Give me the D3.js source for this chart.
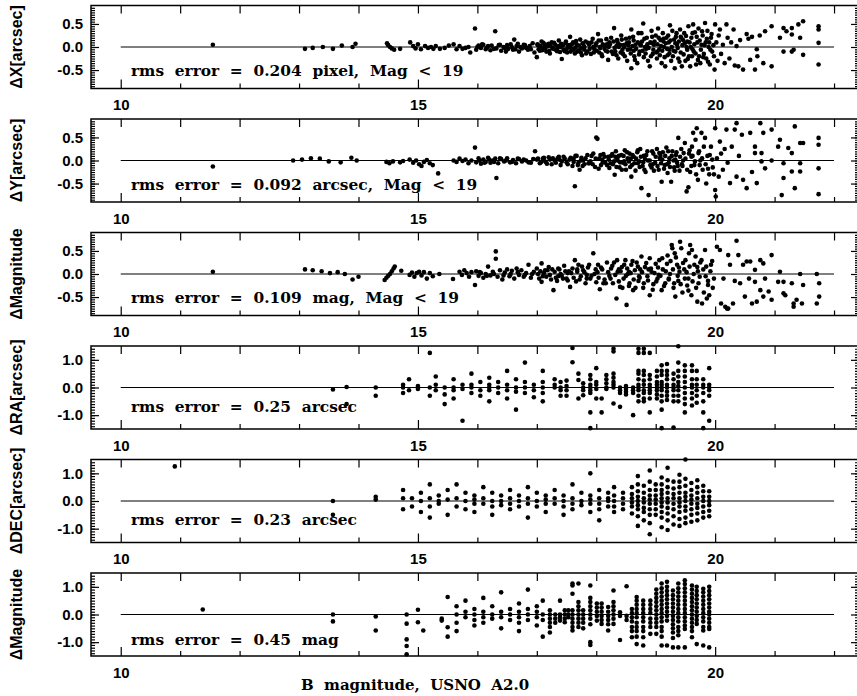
<!DOCTYPE html>
<html>
<head>
<meta charset="utf-8">
<script src="https://cdn.jsdelivr.net/npm/d3@7"></script>
<style>
  body { margin: 0; background: #fff; }
  svg { display: block; }
  .lab { font-family: "Liberation Sans", sans-serif; font-weight: bold; }
  .note { font-family: "DejaVu Serif", serif; font-weight: bold; white-space: pre; }
</style>
</head>
<body>
<div id="chart"></div>
<script>
// ----------------------------------------------------------------
// data: [B magnitude, residual]
// ----------------------------------------------------------------
const dxPoints = [
  [11.55,0.05],[13.1,-0.04],[13.23,-0.02],[13.4,0.0],[13.57,-0.04],[13.72,0.03],[13.9,0.0],[13.95,0.07],
  [14.48,0.08],[14.5,0.04],[14.53,0.0],[14.56,-0.03],[14.6,-0.06],[14.7,-0.04],[14.87,0.1],[14.92,0.02],[14.96,-0.03],
  [15.0,0.06],[15.05,-0.05],[15.12,0.02],[15.17,-0.02],[15.22,0.0],[15.26,-0.04],[15.37,-0.04],
  [15.6,0.06],[15.7,0.02],[15.75,-0.04],[15.8,-0.02],[15.85,0.0],[15.88,-0.12],[15.96,0.4],[15.98,-0.06],
  [16.02,0.03],[16.06,-0.02],[16.1,0.05],[16.14,-0.05],[16.18,0.02],[16.22,-0.07],[16.3,0.34],[16.32,-0.03],
  [16.36,0.04],[16.4,-0.08],[16.44,0.0],[16.48,-0.1],[16.52,-0.04],[16.56,0.06],[16.6,-0.06],[16.62,0.16],
  [16.66,0.02],[16.7,-0.1],[16.75,-0.03],[16.8,0.04],[16.85,-0.06],
  [15.3,0.02],[15.45,-0.02],[15.52,0.03],[15.65,-0.05],[16.0,0.0],[16.08,0.06],[16.16,-0.02],[16.24,0.03],
  [16.28,-0.04],[16.38,0.05],[16.46,-0.02],[16.5,0.04],[16.58,0.0],[16.64,-0.05],[16.68,0.07],[16.72,0.0],
  [16.78,0.05],[16.82,-0.02],[16.88,0.02],
  [16.9,-0.05],[16.93,0.08],[16.96,-0.12],[17.0,-0.22],[17.02,0.04],[17.05,-0.08],[17.08,0.12],[17.1,-0.02],
  [17.13,0.06],[17.16,-0.1],[17.19,0.02],[17.22,-0.14],[17.25,0.1],[17.28,-0.04],[17.31,0.05],[17.34,-0.09],
  [17.37,0.14],[17.4,0.0],[17.42,-0.26],[17.45,-0.06],[17.48,0.08],[17.51,-0.12],[17.54,0.04],[17.56,0.22],
  [17.58,-0.03],[17.61,0.1],[17.64,-0.14],[17.67,0.06],[17.7,-0.07],[17.73,0.16],[17.76,-0.18],[17.79,0.02],
  [17.82,0.12],[17.85,-0.1],[17.88,0.05],[17.91,-0.15],[17.94,0.18],[17.97,-0.05],[18.0,0.08],[18.03,0.28],
  [18.05,-0.12],[18.08,0.14],[18.1,-0.2],[18.13,0.03],[18.16,-0.08],[18.2,-0.28],[18.22,0.1],[18.25,0.2],
  [18.28,-0.15],[18.3,0.41],
  [17.15,0.0],[17.35,-0.02],[17.55,0.01],[17.75,-0.03],[17.95,0.0],[18.15,0.02],[17.2,0.07],[17.5,-0.05],
  [17.8,-0.06],[18.07,-0.02],[18.18,0.06],[17.65,-0.01],
  [17.01,0.06],[17.03,-0.05],[17.06,0.02],[17.09,-0.07],[17.11,0.09],[17.14,-0.03],[17.17,0.05],[17.21,-0.08],
  [17.23,0.03],[17.26,-0.02],[17.29,0.09],[17.32,-0.06],[17.36,0.02],[17.39,-0.11],[17.41,0.07],[17.44,0.03],
  [17.47,-0.09],[17.49,0.12],[17.52,0.0],[17.57,-0.1],[17.59,0.06],[17.62,-0.06],[17.66,0.13],[17.68,-0.1],
  [17.71,0.03],[17.74,-0.12],[17.77,0.08],[17.8,0.0],[17.83,-0.14],[17.86,0.09],[17.89,-0.04],[17.92,0.1],
  [17.96,-0.12],[17.99,0.04],[18.01,-0.08],[18.04,0.14],[18.06,0.0],[18.09,-0.16],[18.11,0.06],[18.14,-0.04],
  [18.17,0.17],[18.19,-0.1],[18.21,0.0],
  [18.32,-0.1],[18.35,0.15],[18.37,-0.25],[18.4,0.05],[18.42,0.25],[18.45,-0.15],[18.47,0.0],[18.5,0.18],
  [18.52,-0.3],[18.55,0.1],[18.57,-0.05],[18.59,0.38],[18.59,-0.46],[18.62,0.22],[18.64,-0.2],[18.66,0.05],
  [18.69,-0.35],[18.71,0.3],[18.73,-0.1],[18.76,0.3],[18.77,0.12],[18.79,0.51],[18.8,-0.22],[18.82,0.0],
  [18.85,0.2],[18.87,-0.3],[18.9,-0.42],[18.91,0.1],[18.93,0.35],[18.95,-0.15],[18.97,0.05],[19.0,0.25],
  [19.02,-0.25],[19.04,0.4],[19.06,-0.05],[19.08,0.15],[19.1,-0.35],[19.12,0.3],[19.14,0.0],[19.16,-0.42],
  [19.18,0.2],[19.2,-0.18],[19.22,0.1],[19.24,0.47],[19.26,-0.3],[19.28,0.35],[19.3,-0.08],[19.32,-0.46],
  [19.34,0.22],[19.36,0.05],[19.38,-0.25],[19.41,0.38],[19.42,-0.12],[19.44,-0.42],[19.46,0.15],[19.48,0.3],
  [19.5,-0.3],[19.52,0.0],[19.55,0.45],[19.56,-0.2],[19.58,-0.42],[19.6,0.2],[19.63,0.49],[19.64,-0.1],
  [19.66,0.32],[19.68,-0.38],[19.7,0.1],[19.72,0.4],[19.75,-0.35],[19.77,0.05],[19.79,0.25],[19.81,-0.15],
  [19.83,0.52],[19.85,-0.25],[19.87,0.35],[19.89,0.0],[19.91,-0.38],[19.93,0.2],[19.95,-0.1],[19.99,-0.49],
  [18.34,0.02],[18.44,-0.06],[18.54,0.04],[18.63,-0.08],[18.74,0.06],[18.84,-0.04],[18.94,0.08],[19.03,-0.1],
  [19.13,0.12],[19.23,-0.06],[19.33,0.08],[19.43,0.2],[19.53,0.12],[19.62,-0.05],[19.73,-0.2],[19.84,0.1],
  [18.23,0.06],[18.26,-0.1],[18.29,0.12],[18.31,-0.02],[18.34,-0.18],[18.36,0.1],[18.38,0.0],[18.41,-0.12],
  [18.43,0.16],[18.46,0.04],[18.48,-0.2],[18.51,0.08],[18.53,-0.06],[18.56,0.2],[18.58,-0.14],[18.61,0.02],
  [18.63,0.14],[18.65,-0.28],[18.67,-0.04],[18.7,0.1],[18.72,-0.16],[18.75,0.04],[18.78,-0.08],[18.81,0.18],
  [18.83,-0.14],[18.86,0.06],[18.88,-0.02],[18.92,-0.2],[18.94,0.22],[18.96,-0.06],[18.98,0.12],[19.01,-0.12],
  [19.03,0.06],[19.05,0.2],[19.07,-0.18],[19.09,0.02],[19.11,-0.08],[19.13,0.18],[19.15,-0.22],[19.17,0.08],
  [19.19,-0.04],[19.21,0.25],[19.23,-0.14],[19.25,0.14],[19.27,0.0],[19.29,-0.2],[19.31,0.16],[19.33,-0.1],
  [19.35,0.3],[19.37,-0.02],[19.39,0.12],[19.4,-0.32],[19.42,0.22],[19.45,0.04],[19.47,-0.16],[19.49,0.08],
  [19.51,0.24],[19.53,-0.06],[19.54,-0.26],[19.57,0.1],[19.59,0.0],[19.61,-0.2],[19.62,0.3],[19.65,0.06],
  [19.67,-0.14],[19.69,0.22],[19.71,-0.28],[19.74,0.14],[19.76,-0.06],[19.78,0.34],[19.8,-0.22],[19.82,0.04],
  [19.86,0.18],[19.88,-0.32],[19.9,0.1],[19.92,-0.06],[19.94,0.28],[19.97,0.04],[19.98,-0.2],
  [20.0,0.49],[20.02,0.1],[20.04,-0.3],[20.06,0.25],[20.08,0.38],[20.1,-0.15],[20.13,0.05],[20.16,-0.35],
  [20.19,0.49],[20.21,0.2],[20.24,-0.25],[20.27,0.1],[20.31,0.38],[20.33,-0.4],[20.36,0.02],[20.39,-0.42],
  [20.42,0.15],[20.47,-0.49],[20.53,0.28],[20.56,0.18],[20.59,-0.28],[20.62,0.22],[20.67,-0.49],[20.7,-0.05],
  [20.71,-0.2],[20.75,0.25],[20.81,-0.35],[20.84,0.34],[20.95,0.45],[20.95,-0.42],[21.09,0.2],[21.15,0.41],
  [21.15,-0.1],[21.2,0.34],[21.29,0.41],[21.29,0.27],[21.29,-0.1],[21.32,-0.06],[21.4,0.49],[21.43,0.2],
  [21.48,0.56],[21.48,-0.17],[21.74,0.45],[21.74,0.38],[21.74,0.09],[21.74,-0.38]
];

const dyPoints = [
  [11.55,-0.13],[12.9,0.0],[13.05,0.02],[13.2,0.05],[13.35,0.04],[13.5,-0.02],[13.7,-0.04],[13.88,0.06],[13.97,0.0],
  [14.47,-0.03],[14.52,-0.06],[14.58,-0.02],[14.7,-0.04],[14.75,-0.01],[14.86,0.02],[14.92,-0.05],[14.97,0.0],
  [15.02,-0.08],[15.06,-0.12],[15.1,-0.03],[15.15,0.01],[15.2,-0.06],[15.25,-0.1],[15.34,-0.28],[15.6,0.0],
  [15.65,-0.03],[15.7,0.04],[15.75,-0.01],[15.8,0.02],[15.85,-0.06],[15.9,0.0],[15.96,0.28],[15.98,-0.04],
  [16.02,0.05],[16.06,-0.07],[16.1,0.02],[16.14,-0.03],[16.18,0.06],[16.22,-0.05],[16.26,0.0],[16.3,0.04],
  [16.32,-0.38],[16.35,-0.06],[16.4,0.03],[16.45,-0.02],[16.5,0.05],[16.55,-0.04],[16.6,0.01],[16.65,-0.06],
  [16.7,0.03],[16.75,-0.02],[16.82,0.0],[16.9,-0.05],[16.97,0.2],[17.0,0.02],[17.05,-0.06],[17.1,0.04],
  [16.04,0.0],[16.12,-0.05],[16.2,0.02],[16.28,-0.03],[16.38,0.05],[16.48,0.0],[16.58,-0.03],[16.68,0.04],
  [16.78,0.02],[16.86,-0.04],[16.94,0.03],
  [17.15,-0.03],[17.2,0.07],[17.25,-0.08],[17.3,0.0],[17.35,0.05],[17.4,-0.1],[17.45,0.08],[17.5,-0.04],
  [17.55,0.02],[17.6,-0.12],[17.64,-0.56],[17.65,0.1],[17.7,-0.05],[17.72,-0.2],[17.75,0.06],[17.8,-0.08],
  [17.85,0.12],[17.9,-0.02],[17.95,0.15],[17.98,-0.14],[18.0,0.5],[18.02,0.47],[18.05,0.04],[18.08,-0.1],
  [18.12,0.14],[18.15,-0.05],[18.2,0.08],[18.22,-0.16],
  [17.12,0.0],[17.38,0.02],[17.62,0.04],[17.88,-0.06],[18.1,0.02],[17.78,0.0],
  [17.02,0.04],[17.07,-0.04],[17.12,0.06],[17.17,-0.07],[17.22,0.02],[17.27,0.05],[17.32,-0.05],[17.37,0.08],
  [17.42,-0.02],[17.47,0.04],[17.52,-0.08],[17.57,0.06],[17.62,-0.03],[17.67,0.1],[17.69,-0.1],[17.74,0.0],
  [17.77,-0.12],[17.82,0.05],[17.87,-0.06],[17.92,0.1],[17.94,-0.08],[17.99,0.04],[18.04,-0.18],[18.07,0.12],
  [18.11,-0.04],[18.14,0.08],[18.18,-0.1],[18.21,0.02],
  [18.25,0.1],[18.28,-0.08],[18.31,-0.31],[18.33,0.2],[18.36,0.0],[18.39,-0.15],[18.42,0.12],[18.45,-0.05],
  [18.48,0.22],[18.5,-0.2],[18.53,0.05],[18.56,0.15],[18.59,-0.35],[18.6,-0.1],[18.63,0.08],[18.66,-0.22],
  [18.69,0.18],[18.72,-0.02],[18.74,0.25],[18.76,-0.6],[18.78,-0.12],[18.8,0.1],[18.83,-0.25],[18.86,0.2],
  [18.88,-0.75],[18.9,0.0],[18.93,-0.15],[18.96,0.15],[18.99,-0.05],[19.02,0.25],[19.05,-0.2],[19.07,0.05],
  [19.1,-0.46],[19.12,0.18],[19.15,-0.1],[19.18,0.28],[19.2,-0.27],[19.23,0.05],[19.26,-0.46],[19.28,0.2],
  [19.31,-0.15],[19.34,0.12],[19.36,-0.05],[19.38,0.49],[19.4,-0.22],[19.43,0.25],[19.46,0.0],[19.49,0.38],
  [19.52,-0.67],[19.55,-0.58],[19.56,0.15],[19.58,-0.25],[19.61,0.3],[19.63,0.6],[19.65,-0.1],[19.67,0.45],
  [19.69,0.7],[19.71,-0.42],[19.73,0.2],[19.77,0.6],[19.79,-0.2],[19.83,0.49],[19.85,-0.5],[19.87,0.1],
  [19.9,-0.3],[19.93,0.3],[19.96,-0.15],
  [18.35,0.05],[18.47,-0.02],[18.58,0.04],[18.7,-0.06],[18.82,0.03],[18.95,-0.08],[19.08,0.1],[19.22,-0.05],
  [19.33,0.02],[19.45,-0.12],[19.6,0.08],[19.75,0.0],
  [18.24,-0.06],[18.27,0.14],[18.3,-0.02],[18.32,0.08],[18.34,-0.14],[18.38,0.1],[18.4,-0.04],[18.43,-0.2],
  [18.46,0.1],[18.49,-0.08],[18.52,0.18],[18.55,-0.02],[18.57,-0.14],[18.61,0.12],[18.64,-0.06],[18.67,0.04],
  [18.7,0.22],[18.73,-0.14],[18.75,0.08],[18.79,-0.04],[18.81,-0.2],[18.84,0.12],[18.87,0.0],[18.91,-0.1],
  [18.94,0.2],[18.97,-0.22],[19.0,0.08],[19.03,-0.12],[19.06,0.16],[19.09,-0.06],[19.11,0.02],[19.14,-0.18],
  [19.16,0.1],[19.19,-0.08],[19.21,0.2],[19.24,-0.14],[19.27,0.1],[19.3,0.0],[19.32,-0.22],[19.35,0.18],
  [19.37,-0.12],[19.41,0.08],[19.44,-0.08],[19.47,0.16],[19.5,0.04],[19.53,-0.2],[19.57,0.22],[19.6,-0.12],
  [19.62,0.1],[19.66,-0.02],[19.68,-0.3],[19.72,0.16],[19.74,-0.1],[19.78,0.05],[19.81,0.3],[19.84,-0.08],
  [19.88,-0.18],[19.91,0.12],[19.95,0.02],[19.98,-0.3],
  [20.0,0.7],[20.0,-0.64],[20.01,-0.78],[20.03,0.05],[20.06,-0.35],[20.08,0.41],[20.1,0.15],[20.13,-0.2],
  [20.16,0.25],[20.19,0.67],[20.21,-0.05],[20.25,-0.49],[20.28,0.3],[20.33,0.67],[20.36,0.81],[20.36,-0.35],
  [20.4,0.1],[20.45,0.56],[20.47,-0.42],[20.53,-0.6],[20.59,0.6],[20.62,-0.25],[20.67,0.3],[20.67,0.16],
  [20.7,-0.49],[20.76,0.81],[20.78,0.16],[20.78,-0.02],[20.81,0.6],[20.84,-0.17],[20.95,0.67],[20.95,0.0],
  [21.06,0.3],[21.09,0.45],[21.12,-0.75],[21.15,-0.06],[21.15,-0.38],[21.23,0.27],[21.29,0.16],[21.29,-0.24],
  [21.34,0.74],[21.34,-0.6],[21.43,0.38],[21.43,-0.06],[21.43,-0.24],[21.48,0.38],[21.74,0.49],[21.74,0.34],
  [21.74,-0.17],[21.74,-0.73]
];

const dmPoints = [
  [11.55,0.05],[13.1,0.1],[13.23,0.08],[13.38,0.06],[13.52,0.02],[13.65,0.04],[13.77,0.0],[13.9,-0.12],[14.0,-0.06],
  [14.44,-0.13],[14.47,-0.08],[14.5,-0.04],[14.53,0.0],[14.56,0.06],[14.59,0.12],[14.61,0.16],[14.72,0.07],
  [14.86,-0.02],[14.9,0.03],[14.94,-0.06],[14.98,0.02],[15.02,0.05],[15.06,-0.03],[15.1,0.04],[15.15,-0.1],
  [15.2,0.02],[15.25,-0.05],[15.36,0.0],[15.59,-0.11],[15.7,0.05],[15.74,-0.02],[15.78,0.08],[15.82,0.02],
  [15.86,-0.06],[15.9,0.04],[15.96,-0.24],[15.98,0.06],[16.02,-0.04],[16.06,0.02],[16.1,-0.08],[16.14,0.0],
  [16.18,0.16],[16.22,-0.03],[16.26,0.05],[16.31,0.49],[16.31,0.33],[16.34,-0.06],[16.38,0.08],[16.42,-0.12],
  [16.46,0.03],[16.5,0.1],[16.54,-0.05],[16.58,0.07],[16.62,-0.1],[16.66,0.12],[16.7,-0.02],[16.74,0.08],
  [16.78,-0.06],[16.82,0.02],[16.86,0.2],[16.9,-0.08],[16.95,0.05],[17.0,0.12],[17.04,-0.1],[17.08,0.23],
  [16.04,0.04],[16.16,-0.04],[16.28,0.0],[16.44,-0.03],[16.56,0.0],[16.68,0.04],[16.8,-0.02],[16.92,0.0],
  [17.08,-0.17],[17.12,0.02],[17.16,-0.06],[17.2,0.15],[17.24,-0.12],[17.28,-0.35],[17.3,0.05],[17.34,-0.15],
  [17.38,0.1],[17.42,-0.04],[17.46,0.18],[17.5,-0.1],[17.54,0.06],[17.56,-0.28],[17.6,0.12],[17.64,0.3],
  [17.66,-0.16],[17.7,0.2],[17.74,-0.05],[17.78,0.08],[17.82,-0.2],[17.86,0.14],[17.9,-0.1],[17.95,0.45],
  [17.97,0.0],[18.0,-0.18],[18.03,0.2],[18.06,-0.33],[18.1,0.1],[18.14,-0.12],[18.18,0.25],[18.22,-0.04],
  [17.14,0.08],[17.36,-0.05],[17.52,0.02],[17.68,0.05],[17.84,-0.02],[18.02,0.04],[18.16,-0.2],
  [17.02,0.0],[17.06,0.06],[17.1,-0.05],[17.18,0.08],[17.22,-0.02],[17.26,0.1],[17.32,-0.08],[17.36,0.12],
  [17.4,0.0],[17.44,-0.1],[17.48,0.06],[17.52,-0.14],[17.58,0.02],[17.62,-0.08],[17.68,0.1],[17.72,-0.12],
  [17.76,0.16],[17.8,0.04],[17.84,-0.1],[17.88,0.2],[17.92,-0.04],[17.99,0.1],[18.04,-0.08],[18.08,0.14],
  [18.12,-0.2],[18.2,0.04],
  [18.25,0.12],[18.28,-0.2],[18.3,0.25],[18.34,-0.53],[18.36,0.05],[18.4,-0.28],[18.43,0.15],[18.46,-0.1],
  [18.49,0.3],[18.51,-0.67],[18.53,0.0],[18.56,-0.2],[18.59,0.2],[18.62,-0.35],[18.65,0.08],[18.68,0.25],
  [18.71,-0.15],[18.74,0.1],[18.76,0.38],[18.79,-0.3],[18.82,0.15],[18.86,-0.05],[18.9,0.34],[18.9,-0.46],
  [18.93,0.05],[18.96,-0.22],[19.0,0.22],[19.03,-0.1],[19.06,0.3],[19.1,-0.35],[19.12,0.1],[19.16,-0.2],
  [19.2,0.4],[19.24,0.0],[19.27,0.63],[19.28,0.56],[19.3,-0.3],[19.32,0.45],[19.33,-0.49],[19.36,0.2],
  [19.38,-0.15],[19.41,0.7],[19.43,0.56],[19.45,-0.4],[19.48,0.1],[19.5,0.3],[19.53,-0.25],[19.56,0.45],
  [19.58,0.63],[19.6,-0.46],[19.61,0.52],[19.64,0.0],[19.67,0.38],[19.7,-0.6],[19.72,-0.2],[19.75,0.25],
  [19.78,-0.64],[19.8,0.1],[19.83,0.52],[19.84,-0.05],[19.86,-0.53],[19.9,-0.46],[19.93,0.2],[19.96,-0.3],
  [18.38,0.1],[18.55,0.05],[18.72,-0.05],[18.88,0.1],[19.05,-0.02],[19.22,-0.1],[19.4,0.05],[19.55,-0.1],
  [19.7,0.15],[19.88,-0.15],
  [18.24,-0.1],[18.27,0.18],[18.32,-0.02],[18.35,0.3],[18.38,-0.16],[18.41,0.06],[18.44,-0.3],[18.47,0.2],
  [18.5,-0.04],[18.52,0.12],[18.55,-0.26],[18.58,0.02],[18.61,0.28],[18.63,-0.12],[18.66,-0.3],[18.7,0.16],
  [18.73,-0.08],[18.77,0.04],[18.8,-0.2],[18.84,0.24],[18.87,-0.14],[18.92,0.12],[18.95,-0.34],[18.98,0.02],
  [19.01,-0.16],[19.04,0.14],[19.08,-0.04],[19.11,0.34],[19.14,-0.26],[19.17,0.06],[19.19,0.22],[19.22,-0.12],
  [19.25,0.28],[19.29,0.1],[19.31,-0.2],[19.34,0.36],[19.37,-0.04],[19.39,0.14],[19.42,-0.22],[19.46,0.24],
  [19.49,-0.1],[19.52,0.04],[19.55,-0.36],[19.57,0.16],[19.62,-0.16],[19.65,0.2],[19.68,-0.3],[19.71,0.06],
  [19.74,-0.06],[19.77,0.3],[19.81,-0.4],[19.85,0.16],[19.88,-0.24],[19.92,0.06],[19.95,0.28],[19.98,-0.1],
  [20.03,0.59],[20.08,0.52],[20.1,-0.64],[20.14,-0.1],[20.17,-0.71],[20.2,-0.75],[20.22,0.41],[20.22,-0.75],
  [20.25,0.2],[20.3,-0.64],[20.33,-0.15],[20.36,0.72],[20.39,0.41],[20.42,-0.2],[20.47,0.2],[20.5,-0.49],
  [20.53,0.27],[20.57,-0.1],[20.59,0.27],[20.62,-0.64],[20.67,0.09],[20.67,-0.17],[20.7,-0.6],[20.76,0.3],
  [20.76,-0.35],[20.81,0.23],[20.81,-0.49],[20.84,-0.1],[20.9,-0.38],[20.95,0.41],[20.95,-0.56],[21.06,-0.17],
  [21.09,0.05],[21.15,-0.17],[21.15,-0.42],[21.18,-0.46],[21.29,-0.2],[21.32,-0.64],[21.32,-0.71],[21.37,-0.56],
  [21.43,0.0],[21.46,-0.64],[21.48,-0.24],[21.71,0.0],[21.71,-0.64],[21.75,-0.2],[21.75,-0.49]
];

// lower three panels: catalogue magnitudes come in columns -> [magnitude, [residuals]]
const draColumns = [
  [13.57,[-0.07]],[13.8,[0.02,-0.6]],[14.29,[0.0,-0.3]],[14.75,[0.1,0.0,-0.2]],[14.85,[0.3,-0.1]],
  [15.0,[0.05,-0.05]],[15.2,[1.25,0.0,-0.3]],[15.3,[0.4,0.1,-0.1]],[15.45,[0.0,-0.25,-0.6]],
  [15.6,[0.3,0.0,-0.1,-0.4]],[15.75,[0.1,-0.05,-1.2]],[15.9,[0.5,0.1,0.0,-0.2]],[16.05,[0.2,-0.1,-0.3]],
  [16.2,[0.35,0.1,0.0,-0.1,-0.5]],[16.35,[0.2,0.0,-0.2]],[16.5,[0.6,0.1,-0.1,-0.4]],
  [16.65,[0.3,0.0,-0.15,-0.8]],[16.8,[0.9,0.2,0.0,-0.2]],[16.95,[0.1,-0.1,-0.35]],
  [17.1,[0.6,0.2,0.0,-0.2,-0.5]],[17.3,[0.3,0.1,0.0]],[17.4,[0.2,0.0,-0.1,-0.3]],[17.5,[0.25,0.05,-0.1,-0.3]],
  [17.6,[1.43,0.91]],[17.7,[0.5,0.27,-0.4]],[17.78,[0.15,0.0,-0.1,-0.28]],
  [17.9,[0.45,0.3,0.1,0.0,-0.1,-0.2,-0.9,-1.47]],[18.0,[0.7,0.2,0.1,-0.05,-0.4]],[18.09,[-0.4,-0.9]],
  [18.17,[0.45,0.3,0.15,0.0,-0.05]],[18.29,[1.4,1.3,0.5,0.35,0.2,0.1,0.0,-0.58]],[18.4,[0.0,-0.1,-0.2,-0.7]],
  [18.5,[0.05,-0.05,-0.15,-0.25]],[18.62,[0.0,-0.1,-0.2,-1.0]],
  [18.71,[1.4,1.25,0.6,0.5,0.3,0.1,0.0,-0.1,-0.3,-0.5]],[18.8,[1.4,1.25,0.6,0.45,0.25,0.1,-0.1,-0.2,-0.4,-0.5]],
  [18.9,[1.25,0.45,0.3,0.1,0.0,-0.1,-0.2,-0.4,-0.9]],[19.02,[0.6,0.4,0.2,0.1,0.0,-0.1,-0.25,-0.4]],
  [19.1,[0.8,0.6,0.45,0.2,0.1,0.0,-0.1,-0.3,-0.5,-0.8,-1.47]],[19.19,[0.85,0.6,0.45,0.3,0.1,0.0,-0.15,-0.3,-0.45]],
  [19.3,[0.5,0.3,0.1,0.0,-0.1,-0.3,-0.5,-1.45]],[19.38,[1.49,0.9,0.6,0.4,0.2,0.05,-0.1,-0.3,-0.5]],
  [19.49,[0.8,0.6,0.4,0.2,0.0,-0.2,-0.4,-0.6,-0.9]],[19.61,[0.8,0.6,0.3,0.1,0.0,-0.2,-0.4,-0.65]],
  [19.69,[0.6,0.3,0.1,-0.1,-0.3,-0.55]],[19.8,[0.3,0.1,0.0,-0.2,-0.5,-0.9,-1.47]],[19.9,[0.7,0.1,0.0,-0.1,-0.3,-1.2]]
];

const ddecColumns = [
  [10.91,[1.25]],[13.57,[0.0,-0.5]],[14.29,[0.15,0.05]],[14.75,[0.4,0.1,-0.3]],[14.9,[0.1,-0.2]],
  [15.05,[0.3,0.0,-0.4]],[15.2,[0.6,0.1,-0.2,-0.6]],[15.35,[0.2,0.0,-0.1]],[15.5,[0.4,0.05,-0.5]],
  [15.65,[0.6,0.1,-0.2]],[15.8,[0.3,0.0,-0.3]],[15.95,[0.2,0.05,-0.1,-0.4]],[16.1,[0.5,0.1,-0.1]],
  [16.25,[0.3,0.0,-0.2,-0.5]],[16.4,[0.2,0.0,-0.15]],[16.55,[0.4,0.1,-0.1,-0.3]],[16.7,[0.2,0.0,-0.2]],
  [16.85,[0.5,0.1,-0.1,-0.6]],[17.0,[0.3,0.0,-0.2]],[17.15,[0.2,0.05,-0.1,-0.4]],[17.3,[0.4,0.1,-0.1]],
  [17.45,[0.2,0.0,-0.2,-0.5]],[17.6,[0.6,0.1,-0.1,-0.3]],[17.75,[0.3,0.0,-0.15]],[17.9,[1.0,0.2,0.05,-0.1,-0.4]],
  [18.05,[0.4,0.1,-0.1,-0.3,-0.7]],[18.2,[0.3,0.1,0.0,-0.2]],[18.3,[0.5,0.2,0.0,-0.2,-0.4]],
  [18.45,[0.3,0.1,-0.1,-0.3]],[18.6,[0.5,0.25,0.1,-0.05,-0.2,-0.45]],
  [18.7,[0.9,0.6,0.35,0.15,0.0,-0.15,-0.3,-0.55,-0.9]],[18.8,[0.55,0.3,0.1,-0.05,-0.25,-0.4,-0.7]],
  [18.9,[1.1,0.7,0.4,0.2,0.05,-0.1,-0.3,-0.5,-0.8,-1.2]],[19.0,[0.6,0.4,0.2,0.05,-0.1,-0.3,-0.5]],
  [19.1,[0.85,0.6,0.4,0.25,0.1,-0.05,-0.2,-0.4,-0.6,-0.95]],[19.2,[1.2,0.75,0.5,0.3,0.1,-0.05,-0.25,-0.45,-0.7,-1.05]],
  [19.3,[0.7,0.45,0.25,0.1,-0.1,-0.3,-0.55,-0.85]],[19.4,[0.95,0.7,0.5,0.3,0.1,-0.05,-0.2,-0.4,-0.65,-0.9]],
  [19.5,[1.5,0.8,0.55,0.3,0.15,0.0,-0.2,-0.35,-0.6,-0.8]],[19.6,[0.65,0.4,0.2,0.05,-0.1,-0.3,-0.5,-0.75]],
  [19.7,[0.75,0.5,0.3,0.1,-0.1,-0.25,-0.45,-0.7]],[19.8,[0.55,0.35,0.15,0.0,-0.2,-0.4,-0.6]],
  [19.9,[0.35,0.15,0.0,-0.15,-0.35,-0.55]]
];

const dmagColumns = [
  [11.38,[0.18]],[13.57,[0.0,-0.25]],[14.29,[-0.07,-0.58]],[14.81,[0.0,-0.33,-0.9,-1.14,-1.44]],
  [15.0,[0.17,-0.28]],[15.09,[-0.58]],[15.4,[-0.15,-0.22]],[15.5,[0.63,-0.46,-0.8]],
  [15.65,[0.3,0.0,-0.3,-0.6]],[15.8,[0.5,0.1,-0.1]],[15.95,[0.2,0.0,-0.2,-0.4]],[16.1,[0.6,0.1,-0.1,-0.3]],
  [16.25,[0.3,0.0,-0.15]],[16.4,[0.8,0.1,-0.1,-0.5]],[16.55,[0.2,0.0,-0.2]],[16.7,[0.4,0.1,-0.1,-0.3,-0.6]],
  [16.85,[0.9,0.2,0.0,-0.2]],[17.0,[0.3,0.1,-0.1,-0.4]],[17.1,[0.5,0.0,-0.2,-0.8]],
  [17.22,[0.15,0.0,-0.15,-0.3,-0.45,-0.65]],[17.31,[0.0,-0.15,-0.3]],[17.39,[0.5,0.0,-0.1,-0.22]],
  [17.47,[0.15,0.0,-0.15,-0.28]],[17.53,[0.15,0.0,-0.1]],[17.6,[1.12,1.05,0.75,0.15,0.0,-0.15,-0.3,-0.45,-0.58]],
  [17.7,[1.12,0.45,0.3,0.15,0.0,-0.15,-0.3,-0.45]],[17.78,[0.15,0.0,-0.15,-0.3,-0.5]],
  [17.9,[1.05,0.6,0.45,0.3,0.15,0.0,-0.15,-0.35,-1.0,-1.1]],[18.01,[0.4,0.25,0.1,-0.05,-0.22]],
  [18.09,[0.4,0.25,0.1,-0.05,-0.2,-0.34]],[18.2,[0.27,0.1,-0.05,-0.2,-0.35,-0.58]],
  [18.29,[0.87,0.45,0.3,0.15,0.0,-0.15,-0.34]],[18.4,[0.08,-0.05,-0.92]],[18.51,[1.02,-0.05,-0.2]],
  [18.6,[0.2,0.05,-0.1,-0.25,-0.45,-0.6,-0.82]],[18.68,[0.63,0.5,0.35,0.2,0.05,-0.1,-0.3,-0.45,-0.6,-0.8,-1.07]],
  [18.79,[0.5,0.35,0.2,0.05,-0.1,-0.25,-0.45,-0.6,-0.82,-1.12]],[18.91,[0.5,0.35,0.2,0.05,-0.15,-0.3,-0.45,-0.7]],
  [19.01,[0.9,0.75,0.6,0.45,0.3,0.15,0.0,-0.15,-0.3,-0.45,-0.7]],
  [19.1,[1.12,0.95,0.8,0.65,0.5,0.35,0.2,0.05,-0.1,-0.25,-0.45,-0.6,-0.8,-1.12]],
  [19.19,[1.18,1.0,0.85,0.7,0.55,0.4,0.25,0.1,-0.05,-0.22,-1.12]],
  [19.29,[0.87,0.7,0.55,0.4,0.25,0.1,-0.05,-0.2,-0.35,-0.5,-0.65,-0.85,-1.19]],
  [19.38,[1.12,0.95,0.8,0.65,0.5,0.35,0.2,0.05,-0.1,-0.25,-0.45,-0.6,-0.75,-1.19]],
  [19.49,[1.24,1.1,0.95,0.8,0.65,0.5,0.35,0.2,0.05,-0.1,-0.25,-0.4,-0.52,-1.19]],
  [19.61,[1.05,0.9,0.75,0.6,0.45,0.3,0.15,0.0,-0.15,-0.3,-0.45,-0.6,-0.82]],
  [19.69,[1.0,0.85,0.7,0.55,0.4,0.25,0.1,-0.05,-0.2,-0.34,-1.07]],
  [19.8,[0.93,0.8,0.65,0.5,0.35,0.2,0.05,-0.1,-0.25,-0.45,-0.58,-1.12]],
  [19.9,[1.0,0.85,0.7,0.55,0.4,0.25,0.1,0.0,-0.15,-0.3,-0.45,-0.52,-1.19]]
];

// tick labels
const magLabels = [10, 15, 20];
const smallTicks = [-0.5, 0, 0.5];
const bigTicks = [-1, 0, 1];

const yLabels = ["\u0394X[arcsec]", "\u0394Y[arcsec]", "\u0394Magnitude", "\u0394RA[arcsec]", "\u0394DEC[arcsec]", "\u0394Magnitude"];
const notes = [
  "rms  error  =  0.204  pixel,  Mag  <  19",
  "rms  error  =  0.092  arcsec,  Mag  <  19",
  "rms  error  =  0.109  mag,  Mag  <  19",
  "rms  error  =  0.25  arcsec",
  "rms  error  =  0.23  arcsec",
  "rms  error  =  0.45  mag"
];
const xTitle = "B  magnitude,  USNO  A2.0";

// ----------------------------------------------------------------
const width = 857;
const height = 696;
const colsToPts = cols => cols.flatMap(c => c[1].map(v => [c[0], v]));

const panels = [
  { pts: dxPoints, domain: [-0.9, 0.9], ticks: smallTicks, minor: 0.05, noteDy: 29 },
  { pts: dyPoints, domain: [-0.9, 0.9], ticks: smallTicks, minor: 0.05, noteDy: 29 },
  { pts: dmPoints, domain: [-0.9, 0.9], ticks: smallTicks, minor: 0.05, noteDy: 29 },
  { pts: colsToPts(draColumns), domain: [-1.5, 1.5], ticks: bigTicks, minor: 0.1, noteDy: 24 },
  { pts: colsToPts(ddecColumns), domain: [-1.5, 1.5], ticks: bigTicks, minor: 0.1, noteDy: 24 },
  { pts: colsToPts(dmagColumns), domain: [-1.5, 1.5], ticks: bigTicks, minor: 0.1, noteDy: 30 }
];

const x = d3.scaleLinear().domain([9.5, 22.42]).range([91, 859]);
const centers = [47, 160.5, 274, 387.5, 501, 614.5];
const half = 41.5;
const fmt = d => d3.format(".1f")(d).replace("\u2212", "-");

const svg = d3.select("#chart").append("svg")
    .attr("width", width)
    .attr("height", height);

panels.forEach(function (p, i) {
    const top = centers[i] - half, bot = centers[i] + half;
    const y = d3.scaleLinear().domain(p.domain).range([bot, top]);
    const g = svg.append("g");
    const last = i === panels.length - 1;

    const minorVals = d3.range(p.domain[0] + p.minor, p.domain[1] - p.minor / 2, p.minor)
        .map(v => +v.toFixed(3));
    const intMags = d3.range(10, 23);

    // minor y ticks, left and right
    g.append("g").attr("transform", "translate(" + x.range()[0] + ",0)")
        .call(d3.axisLeft(y).tickValues(minorVals).tickSize(-4).tickFormat(""));
    g.append("g").attr("transform", "translate(" + x.range()[1] + ",0)")
        .call(d3.axisRight(y).tickValues(minorVals).tickSize(-4).tickFormat(""));
    // major y ticks with labels
    g.append("g").attr("class", "lab").attr("transform", "translate(" + x.range()[0] + ",0)")
        .call(d3.axisLeft(y).tickValues(p.ticks).tickSize(-8).tickPadding(8).tickFormat(fmt));
    g.append("g").attr("transform", "translate(" + x.range()[1] + ",0)")
        .call(d3.axisRight(y).tickValues(p.ticks).tickSize(-8).tickFormat(""));

    // x ticks top and bottom
    g.append("g").attr("transform", "translate(0," + top + ")")
        .call(d3.axisTop(x).tickValues(intMags).tickSize(-8).tickFormat(""));
    g.append("g").attr("transform", "translate(0," + bot + ")")
        .call(d3.axisBottom(x).tickValues(intMags.filter(m => !magLabels.includes(m))).tickSize(-5).tickFormat(""));
    // the bottom panel leaves out the middle label, the axis title sits there
    g.append("g").attr("class", "lab").attr("transform", "translate(0," + bot + ")")
        .call(d3.axisBottom(x).tickValues(magLabels).tickSize(-9).tickPadding(11)
            .tickFormat(d => (last && d === 15) ? "" : d3.format("d")(d)));

    g.selectAll(".domain").remove();
    g.selectAll(".tick line").attr("stroke", "#000").attr("stroke-width", 1.2);
    g.selectAll(".lab text").attr("fill", "#000").style("font-size", "15px");

    // frame
    g.append("rect")
        .attr("x", x.range()[0]).attr("y", top)
        .attr("width", x.range()[1] - x.range()[0]).attr("height", bot - top)
        .attr("fill", "none").attr("stroke", "#000").attr("stroke-width", 1.5);

    // zero line
    g.append("line")
        .attr("x1", x(10)).attr("x2", x(22))
        .attr("y1", y(0)).attr("y2", y(0))
        .attr("stroke", "#000").attr("stroke-width", 1);

    // points
    g.append("g").selectAll("circle")
        .data(p.pts)
        .enter().append("circle")
        .attr("cx", d => x(d[0]))
        .attr("cy", d => y(d[1]))
        .attr("r", 2.3)
        .attr("fill", "#000");

    // rms note
    g.append("text").attr("class", "note")
        .attr("x", 131).attr("y", centers[i] + p.noteDy)
        .style("font-size", "15.4px")
        .text(notes[i]);

    // y label
    g.append("text").attr("class", "lab")
        .attr("transform", "translate(22," + centers[i] + ") rotate(-90)")
        .attr("text-anchor", "middle")
        .style("font-size", "16px")
        .text(yLabels[i]);
});

svg.append("text").attr("class", "note")
    .attr("x", 415).attr("y", 690)
    .attr("text-anchor", "middle")
    .style("font-size", "15px")
    .text(xTitle);
</script>
</body>
</html>
